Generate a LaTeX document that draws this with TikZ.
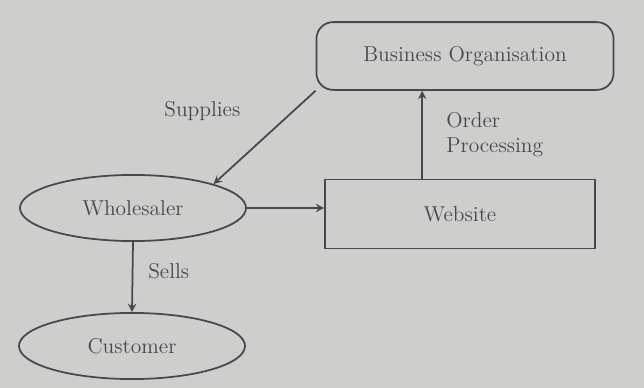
\documentclass[tikz,border=0pt]{standalone}
\usepackage{tikz}
\usetikzlibrary{shapes.geometric, arrows.meta, positioning}
\definecolor{paper}{RGB}{206,206,204}
\definecolor{ink}{RGB}{72,72,74}
\tikzstyle{party} = [ellipse, minimum width=4.07cm, minimum height=1.19cm, text centered, draw=ink, line width=0.9pt]
\tikzstyle{org} = [rectangle, rounded corners=0.3cm, minimum width=5.35cm, minimum height=1.22cm, text centered, draw=ink, line width=0.9pt]
\tikzstyle{process} = [rectangle, minimum width=4.86cm, minimum height=1.24cm, text centered, draw=ink, line width=0.9pt]
\tikzstyle{arrow} = [draw=ink, line width=0.9pt, ->, >=stealth]

\begin{document}
\begin{tikzpicture}[x=0.018cm, y=-0.018cm, font=\fontsize{11}{13}\selectfont, text=ink]
\fill[paper] (0,0) rectangle (644,388);
\useasboundingbox (0,0) rectangle (644,388);

\node (busorg) [org] at (465,56) {Business Organisation};
\node (website) [process] at (460,214) {Website};
\node (wholesaler) [party] at (133,208) {Wholesaler};
\node (customer) [party] at (132,346) {Customer};

\draw [arrow] (busorg.south west) -- node [pos=0.5, xshift=-1.12cm, yshift=0.47cm] (supplies) {Supplies} (wholesaler.north east);
\draw [arrow] (wholesaler.east) -- (wholesaler.east -| website.west);
\draw [arrow] ([xshift=-0.68cm]website.north) -- ([xshift=-0.68cm]website.north |- busorg.south)
  node [pos=0.5, right=0.3cm, align=left] (order) {Order\\Processing};
\draw [arrow] (wholesaler.south) -- node [pos=0.42, right=0.15cm] (sells) {Sells} (customer.north);

\end{tikzpicture}
\end{document}
